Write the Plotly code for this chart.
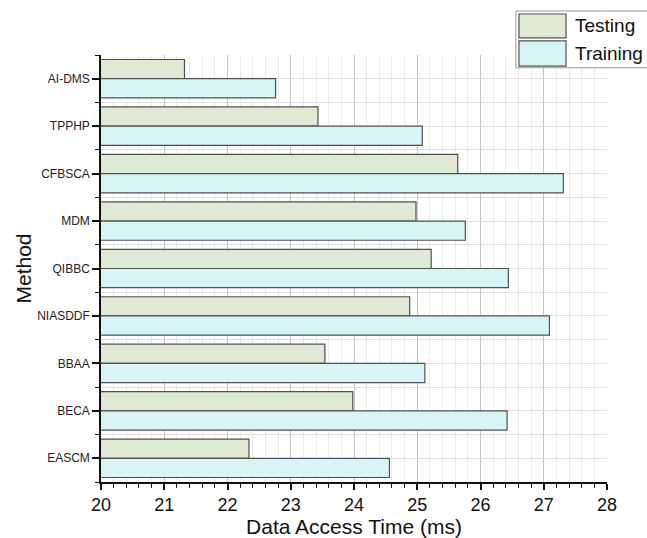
import plotly.graph_objects as go

methods = ["AI-DMS", "TPPHP", "CFBSCA", "MDM", "QIBBC", "NIASDDF", "BBAA", "BECA", "EASCM"]
testing = [21.32, 23.43, 25.64, 24.98, 25.22, 24.88, 23.54, 23.98, 22.34]
training = [22.76, 25.08, 27.31, 25.76, 26.44, 27.09, 25.12, 26.42, 24.56]
series_names = ["Testing", "Training"]
series_colors = ["#dfe9d4", "#d7f5f5"]
x_ticks = [20, 21, 22, 23, 24, 25, 26, 27, 28]

pos = list(range(len(methods)))
FONT = "Liberation Sans, Arial, sans-serif"
EDGE = "#505050"

fig = go.Figure()
for name, vals, col in zip(series_names, [testing, training], series_colors):
    fig.add_trace(go.Bar(
        y=pos, x=vals, orientation="h", name=name,
        marker=dict(color=col, line=dict(color=EDGE, width=1.2)),
        showlegend=False,
    ))

# Legend drawn as large swatches (paper coordinates)
fig.add_shape(type="rect", xref="paper", yref="paper", x0=0.820, x1=1.09, y0=0.970, y1=1.103,
              line=dict(color="#999999", width=1), fillcolor="white", layer="above")
sw_y = [(1.040, 1.096), (0.974, 1.033)]
txt_y = [1.068, 1.004]
for (y0, y1), ty, name, col in zip(sw_y, txt_y, series_names, series_colors):
    fig.add_shape(type="rect", xref="paper", yref="paper", x0=0.826, x1=0.919, y0=y0, y1=y1,
                  line=dict(color=EDGE, width=1.2), fillcolor=col, layer="above")
    fig.add_annotation(x=0.932, y=ty, xref="paper", yref="paper", text=name, showarrow=False,
                       xanchor="left", yanchor="middle",
                       font=dict(size=19, family=FONT, color="#111111"))

fig.update_layout(
    width=647, height=538,
    margin=dict(l=101, r=40, t=55, b=56),
    paper_bgcolor="white", plot_bgcolor="white",
    barmode="group", bargap=0.19, bargroupgap=0,
    font=dict(family=FONT, color="#111111"),
    showlegend=False,
    xaxis=dict(
        range=[20, 28], tickvals=x_ticks, ticks="outside", ticklen=6, tickwidth=1.5,
        tickcolor="#111111", showline=True, linecolor="#111111", linewidth=1.5,
        showgrid=True, gridcolor="#c4c4c4", gridwidth=1, automargin=False,
        tickfont=dict(size=18, family=FONT, color="#111111"),
        title=dict(text="Data Access Time (ms)", font=dict(size=21, family=FONT, color="#111111"), standoff=0),
        minor=dict(dtick=0.2, ticks="outside", ticklen=4, tickwidth=1.2, tickcolor="#111111",
                   showgrid=True, gridcolor="#ebebeb", gridwidth=1),
        zeroline=False,
    ),
    yaxis=dict(
        range=[len(methods) - 0.5, -0.5], tickvals=pos, ticktext=methods,
        ticks="outside", ticklen=7, tickwidth=1.5, tickcolor="#111111",
        showline=True, linecolor="#111111", linewidth=1.5, automargin=False,
        showgrid=True, gridcolor="#e0e0e0", gridwidth=1,
        tickfont=dict(size=12, family=FONT, color="#222222"),
        title=dict(text="Method", font=dict(size=21, family=FONT, color="#111111"), standoff=0),
        minor=dict(tick0=0.5, dtick=1, ticks="outside", ticklen=4, tickwidth=1.2, tickcolor="#111111",
                   showgrid=True, gridcolor="#e0e0e0", gridwidth=1),
        zeroline=False,
    ),
)

fig.write_html("out.html", config={"displayModeBar": False},
               post_script="document.body.style.margin='0';document.body.style.overflow='hidden';")
